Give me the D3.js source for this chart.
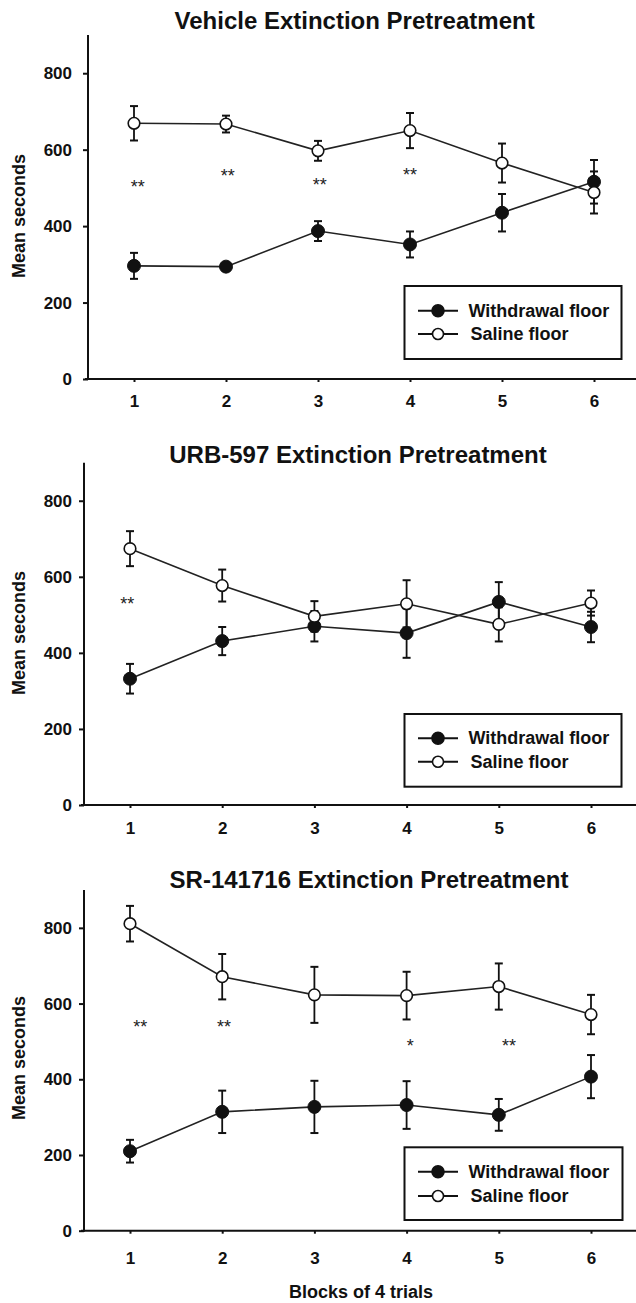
<!DOCTYPE html>
<html><head><meta charset="utf-8">
<script src="https://cdn.jsdelivr.net/npm/d3@7"></script>
<style>
html,body{margin:0;padding:0;background:#fff;}
svg{display:block;font-family:"Liberation Sans",Arial,Helvetica,sans-serif;}
</style></head>
<body>
<svg id="chart" width="636" height="1303"></svg>
<script>
// ---------- data ----------
const blocks = [1, 2, 3, 4, 5, 6];
const yTickValues = [0, 200, 400, 600, 800];
const seriesNames = ["Withdrawal floor", "Saline floor"];
const panelTitles = ["Vehicle Extinction Pretreatment", "URB-597 Extinction Pretreatment", "SR-141716 Extinction Pretreatment"];
const yAxisTitle = "Mean seconds";
const xAxisTitle = "Blocks of 4 trials";

// Vehicle
const vehWithdrawal    = [296, 294, 387, 352, 435, 516];
const vehWithdrawalErr = [34, 10, 26, 34, 49, 57];
const vehSaline        = [669, 667, 597, 650, 565, 488];
const vehSalineErr     = [45, 22, 26, 46, 51, 55];
const vehStars  = ["**", "**", "**", "**"];
const vehStarX  = [1.04, 2.02, 3.02, 4.0];
const vehStarY  = [513, 542, 518, 545];

// URB-597
const urbWithdrawal    = [332, 431, 470, 452, 534, 468];
const urbWithdrawalErr = [39, 37, 40, 65, 52, 40];
const urbSaline        = [674, 577, 496, 529, 475, 531];
const urbSalineErr     = [46, 42, 40, 62, 45, 33];
const urbStars  = ["**"];
const urbStarX  = [0.97];
const urbStarY  = [539];

// SR-141716
const srWithdrawal    = [210, 314, 327, 332, 306, 407];
const srWithdrawalErr = [30, 56, 69, 63, 42, 57];
const srSaline        = [811, 671, 623, 621, 645, 571];
const srSalineErr     = [47, 60, 74, 63, 61, 52];
const srStars  = ["**", "**", "*", "**"];
const srStarX  = [1.11, 2.02, 4.04, 5.11];
const srStarY  = [549, 549, 498, 498];

// ---------- layout (not data) ----------
const layouts = [
  {axisX: 88, x1: 134, x6: 594, y0: 379, yTop: 35, titleX: 354.6, titleY: 29.3, ylabY: 216, xlabOff: 13,
   leg: {x: 404.5, y: 286, w: 217, h: 73, r1: 310.7, r2: 334}},
  {axisX: 84, x1: 130, x6: 591, y0: 805, yTop: 462.7, titleX: 358, titleY: 463, ylabY: 633, xlabOff: 14,
   leg: {x: 404.5, y: 714, w: 217, h: 72.7, r1: 738.3, r2: 761.7}},
  {axisX: 84, x1: 130, x6: 591, y0: 1230.7, yTop: 890, titleX: 369, titleY: 888, ylabY: 1058, xlabOff: 18,
   leg: {x: 404.5, y: 1147.3, w: 218, h: 72.7, r1: 1171.7, r2: 1196}}
];

const panels = [
  {w: vehWithdrawal, we: vehWithdrawalErr, s: vehSaline, se: vehSalineErr, stars: vehStars, sx: vehStarX, sy: vehStarY},
  {w: urbWithdrawal, we: urbWithdrawalErr, s: urbSaline, se: urbSalineErr, stars: urbStars, sx: urbStarX, sy: urbStarY},
  {w: srWithdrawal, we: srWithdrawalErr, s: srSaline, se: srSalineErr, stars: srStars, sx: srStarX, sy: srStarY}
];

const svg = d3.select("#chart");
const ink = "#111";
const starSize = 18;

panels.forEach((p, i) => {
  const L = layouts[i];
  const step = (L.x6 - L.x1) / 5;
  const x = d3.scaleLinear().domain([0.5, 6.5]).range([L.x1 - step / 2, L.x6 + step / 2]);
  const y = d3.scaleLinear().domain([0, 900]).range([L.y0, L.yTop]);
  const g = svg.append("g");

  // title
  g.append("text").attr("x", L.titleX).attr("y", L.titleY).attr("text-anchor", "middle")
    .attr("font-size", 24).attr("font-weight", "bold").attr("fill", ink).text(panelTitles[i]);

  // y axis label
  g.append("text").attr("transform", `translate(19,${L.ylabY}) rotate(-90)`)
    .attr("text-anchor", "middle").attr("dominant-baseline", "central")
    .attr("font-size", 18).attr("font-weight", "bold").attr("fill", ink).text(yAxisTitle);

  // axes
  const ya = g.append("g").attr("transform", `translate(${L.axisX},0)`)
    .call(d3.axisLeft(y).tickValues(yTickValues).tickSize(5).tickPadding(L.axisX - 5 - 72).tickFormat(d3.format("d")));
  ya.select(".domain").remove();
  ya.selectAll("line").attr("stroke", ink).attr("stroke-width", 2);
  ya.selectAll("text").attr("font-size", 17).attr("font-weight", "bold").attr("fill", ink).attr("font-family", null);

  const xa = g.append("g").attr("transform", `translate(0,${L.y0})`)
    .call(d3.axisBottom(x).tickValues(blocks).tickSize(3).tickPadding(L.xlabOff).tickFormat(d3.format("d")));
  xa.select(".domain").remove();
  xa.selectAll("line").attr("stroke", ink).attr("stroke-width", 2);
  xa.selectAll("text").attr("font-size", 17).attr("font-weight", "bold").attr("fill", ink).attr("font-family", null);

  g.append("line").attr("x1", L.axisX).attr("x2", L.axisX).attr("y1", L.yTop).attr("y2", L.y0 + 1)
    .attr("stroke", ink).attr("stroke-width", 2);
  g.append("line").attr("x1", L.axisX - 3).attr("x2", 640).attr("y1", L.y0).attr("y2", L.y0)
    .attr("stroke", ink).attr("stroke-width", 2);

  const line = d3.line().x((d, k) => x(blocks[k])).y(d => y(d));
  const series = [
    {vals: p.w, err: p.we, filled: true},
    {vals: p.s, err: p.se, filled: false}
  ];

  series.forEach(sr => {
    g.append("path").datum(sr.vals).attr("d", line).attr("fill", "none")
      .attr("stroke", "#222").attr("stroke-width", 1.6);
  });
  series.forEach(sr => {
    const eb = g.append("g").attr("stroke", ink).attr("stroke-width", 1.8);
    sr.vals.forEach((v, k) => {
      const cx = x(blocks[k]);
      const top = y(v + sr.err[k]), bot = y(v - sr.err[k]);
      eb.append("line").attr("x1", cx).attr("x2", cx).attr("y1", top).attr("y2", bot);
      eb.append("line").attr("x1", cx - 4).attr("x2", cx + 4).attr("y1", top).attr("y2", top).attr("stroke-width", 2);
      eb.append("line").attr("x1", cx - 4).attr("x2", cx + 4).attr("y1", bot).attr("y2", bot).attr("stroke-width", 2);
    });
  });
  series.forEach(sr => {
    g.append("g").selectAll("circle").data(sr.vals).join("circle")
      .attr("cx", (d, k) => x(blocks[k])).attr("cy", d => y(d))
      .attr("r", sr.filled ? 6.5 : 5.8)
      .attr("fill", sr.filled ? ink : "#fff")
      .attr("stroke", ink).attr("stroke-width", sr.filled ? 1 : 1.6);
  });

  // significance stars
  p.stars.forEach((s, k) => {
    g.append("text").attr("x", x(p.sx[k])).attr("y", y(p.sy[k]) + 0.57 * starSize)
      .attr("text-anchor", "middle").attr("font-size", starSize).attr("fill", "#222")
      .attr("letter-spacing", 0).text(s);
  });

  // legend
  const lg = L.leg;
  g.append("rect").attr("x", lg.x).attr("y", lg.y).attr("width", lg.w).attr("height", lg.h)
    .attr("fill", "#fff").attr("stroke", ink).attr("stroke-width", 2);
  [lg.r1, lg.r2].forEach((ry, k) => {
    g.append("line").attr("x1", lg.x + 13.5).attr("x2", lg.x + 53.5).attr("y1", ry).attr("y2", ry)
      .attr("stroke", ink).attr("stroke-width", 2);
    g.append("circle").attr("cx", lg.x + 33.5).attr("cy", ry).attr("r", k === 0 ? 6 : 5.5)
      .attr("fill", k === 0 ? ink : "#fff").attr("stroke", ink).attr("stroke-width", 1.6);
    g.append("text").attr("x", lg.x + (k === 0 ? 64 : 66)).attr("y", ry).attr("dominant-baseline", "central")
      .attr("font-size", 18).attr("font-weight", "bold").attr("fill", ink).text(seriesNames[k]);
  });
});

// shared x-axis title
svg.append("text").attr("x", 361).attr("y", 1298).attr("text-anchor", "middle")
  .attr("font-size", 18).attr("font-weight", "bold").attr("fill", ink).text(xAxisTitle);
</script>
</body></html>
